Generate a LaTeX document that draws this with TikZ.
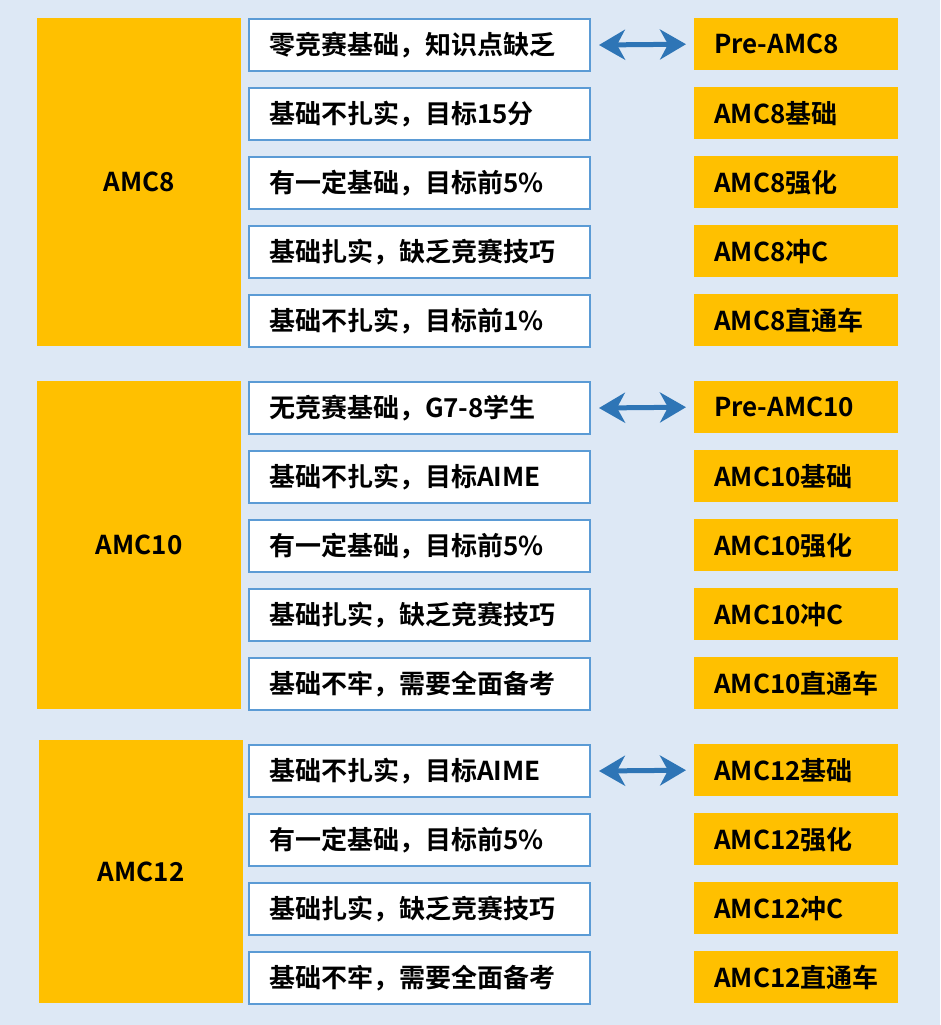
\documentclass[tikz,border=0pt]{standalone}
\usepackage{fontspec}
\setmainfont{Noto Sans CJK SC}[BoldFont={* Bold}]
\usetikzlibrary{arrows.meta}
\definecolor{bgblue}{HTML}{DDE8F5}
\definecolor{amcorange}{HTML}{FFC000}
\definecolor{lineblue}{HTML}{5B9BD5}
\definecolor{arrowblue}{HTML}{2E75B6}
\tikzset{
  level/.style={fill=amcorange, draw=none, anchor=north west, minimum width=204pt, font=\fontsize{26}{30}\selectfont\bfseries},
  need/.style={fill=white, draw=lineblue, line width=2pt, anchor=north west, minimum width=341pt, minimum height=52pt, text width=301pt, align=left, inner xsep=20pt, font=\fontsize{26}{30}\selectfont\bfseries},
  course/.style={fill=amcorange, draw=none, anchor=north west, minimum width=204pt, minimum height=52pt, text width=164pt, align=left, inner xsep=20pt, font=\fontsize{26}{30}\selectfont\bfseries},
  link/.style={arrowblue, line width=5pt, {Stealth[length=26pt,width=30pt,inset=8pt]}-{Stealth[length=26pt,width=30pt,inset=8pt]}}
}
\newcommand{\courserow}[4]{%
  \node[need] (n#1) at (248,#2) {#3};
  \node[course] (c#1) at (694,#2) {#4};
}
\begin{document}
\begin{tikzpicture}[x=1pt,y=-1pt]
\fill[bgblue] (0,0) rectangle (940,1025);
\useasboundingbox (0,0) rectangle (940,1025);
% AMC8
\node[level, minimum height=328pt] (amc8) at (37,18) {AMC8};
\courserow{81}{18}{零竞赛基础，知识点缺乏}{Pre-AMC8}
\courserow{82}{87}{基础不扎实，目标15分}{AMC8基础}
\courserow{83}{156}{有一定基础，目标前5\%}{AMC8强化}
\courserow{84}{225}{基础扎实，缺乏竞赛技巧}{AMC8冲C}
\courserow{85}{294}{基础不扎实，目标前1\%}{AMC8直通车}
% AMC10
\node[level, minimum height=328pt] (amc10) at (37,381) {AMC10};
\courserow{101}{381}{无竞赛基础，G7-8学生}{Pre-AMC10}
\courserow{102}{450}{基础不扎实，目标AIME}{AMC10基础}
\courserow{103}{519}{有一定基础，目标前5\%}{AMC10强化}
\courserow{104}{588}{基础扎实，缺乏竞赛技巧}{AMC10冲C}
\courserow{105}{657}{基础不牢，需要全面备考}{AMC10直通车}
% AMC12
\node[level, minimum height=263pt] (amc12) at (39,740) {AMC12};
\courserow{121}{744}{基础不扎实，目标AIME}{AMC12基础}
\courserow{122}{813}{有一定基础，目标前5\%}{AMC12强化}
\courserow{123}{882}{基础扎实，缺乏竞赛技巧}{AMC12冲C}
\courserow{124}{951}{基础不牢，需要全面备考}{AMC12直通车}
% arrows
\foreach \r in {81,101,121}
  \draw[link] ([xshift=8pt]n\r.east) -- ([xshift=-8pt]c\r.west);
\end{tikzpicture}
\end{document}
